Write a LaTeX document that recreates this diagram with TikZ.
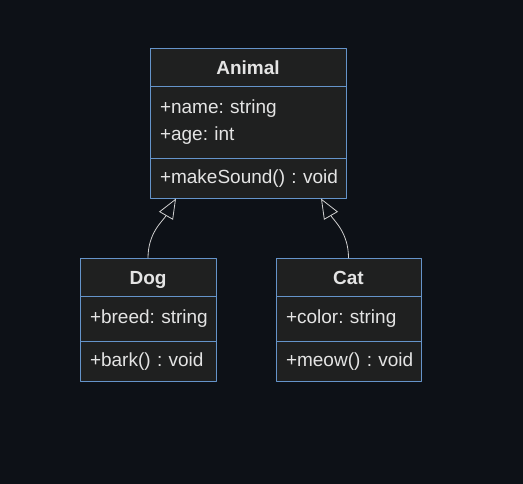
\documentclass[tikz,border=0pt]{standalone}
\usepackage{fontspec}
\setmainfont{Liberation Sans}
\usetikzlibrary{arrows.meta}
\definecolor{bgdark}{HTML}{0D1117}
\definecolor{boxfill}{HTML}{1F2020}
\definecolor{boxline}{HTML}{6594CA}
\definecolor{txtcol}{HTML}{E4E4E4}
\definecolor{linkcol}{HTML}{D0D0D0}
\newcommand{\member}[1]{\mbox{#1}}
\frenchspacing

\begin{document}
\begin{tikzpicture}[x=1pt, y=1pt, line join=round, line cap=round,
		font=\fontsize{19}{27}\selectfont, text=txtcol,
		head/.style={draw=boxline, fill=boxfill, line width=1pt, inner sep=0pt, minimum height=38pt, text height=14pt, text depth=0pt, font=\fontsize{19}{27}\selectfont\bfseries},
		part/.style={draw=boxline, fill=boxfill, line width=1pt, inner xsep=10pt, inner ysep=0pt, align=left},
		inherit/.style={draw=linkcol, line width=0.8pt, -{Triangle[open, length=20pt, width=16pt]}}
		]
		\fill[bgdark] (0,0) rectangle (523,484);
		\useasboundingbox (0,0) rectangle (523,484);
		\begin{scope}[yshift=-0.5pt]
		% Animal
		\node[head, minimum width=196pt] (animal) at (248,417) {Animal};
		\node[part, text width=176pt, minimum height=72pt] (animalAttr) at (248,362) {\member{+name: string}\\\member{+age: int}};
		\node[part, text width=176pt, minimum height=40pt] (animalOps) at (248,306) {\member{+makeSound() : void}};
		% Dog
		\node[head, minimum width=136pt] (dog) at (148,207) {Dog};
		\node[part, text width=116pt, minimum height=45pt] (dogAttr) at (148,165.5) {\member{+breed: string}};
		\node[part, text width=116pt, minimum height=40pt] (dogOps) at (148,123) {\member{+bark() : void}};
		% Cat
		\node[head, minimum width=145pt] (cat) at (348.5,207) {Cat};
		\node[part, text width=125pt, minimum height=45pt] (catAttr) at (348.5,165.5) {\member{+color: string}};
		\node[part, text width=125pt, minimum height=40pt] (catOps) at (348.5,123) {\member{+meow() : void}};
		% inheritance
		\coordinate (dogTip) at (176,286);
		\coordinate (catTip) at (321,286);
		\draw[inherit] (dog.north) to[out=90, in=-120] (dogTip);
		\draw[inherit] (cat.north) to[out=90, in=-60] (catTip);
		\end{scope}
\end{tikzpicture}
\end{document}
